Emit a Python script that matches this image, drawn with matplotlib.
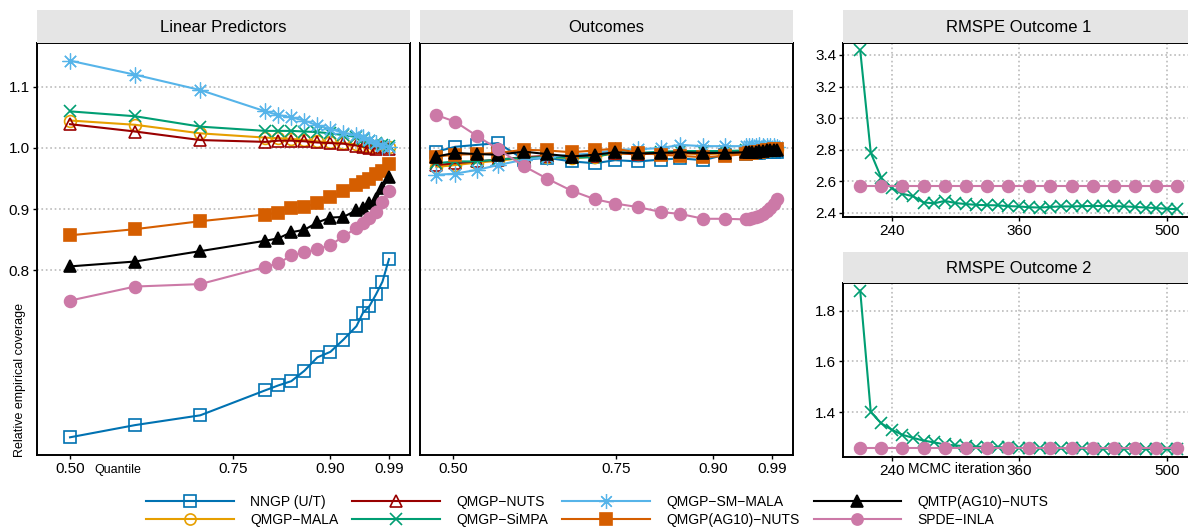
import matplotlib
matplotlib.use("Agg")
import matplotlib.pyplot as plt
from matplotlib.lines import Line2D

plt.rcParams['font.family'] = ['Liberation Sans', 'DejaVu Sans']

W, H = 1188, 527

# ---- data ----
methods = ['NNGP (U/T)', 'QMGP\u2212MALA', 'QMGP\u2212NUTS', 'QMGP\u2212SiMPA',
           'QMGP\u2212SM\u2212MALA', 'QMGP(AG10)\u2212NUTS', 'QMTP(AG10)\u2212NUTS', 'SPDE\u2212INLA']
colors = ['#0072B2', '#E69F00', '#990000', '#009E73', '#56B4E9', '#D55E00', '#000000', '#CC79A7']
markers = ['s', 'o', '^', 'x', (8, 2, 0), 's', '^', 'o']
filled = [False, False, False, True, True, True, True, True]

q_lin = [0.50, 0.60, 0.70, 0.80, 0.82, 0.84, 0.86, 0.88, 0.90, 0.92, 0.94, 0.95, 0.96, 0.97, 0.98, 0.99]
nngp_lp = [0.526, 0.546, 0.562, 0.603, 0.611, 0.618, 0.635, 0.657, 0.666, 0.686, 0.708, 0.730, 0.741, 0.760, 0.781, 0.818]
mala_lp = [1.045, 1.038, 1.024, 1.017, 1.016, 1.015, 1.013, 1.011, 1.009, 1.008, 1.006, 1.004, 1.003, 1.002, 1.002, 1.001]
nuts_lp = [1.039, 1.027, 1.013, 1.010, 1.012, 1.012, 1.011, 1.009, 1.008, 1.007, 1.004, 1.002, 1.000, 0.999, 1.001, 0.998]
simpa_lp = [1.060, 1.052, 1.035, 1.028, 1.028, 1.028, 1.027, 1.026, 1.024, 1.021, 1.018, 1.015, 1.011, 1.008, 1.005, 1.003]
smmala_lp = [1.143, 1.120, 1.095, 1.060, 1.054, 1.050, 1.045, 1.037, 1.031, 1.025, 1.021, 1.018, 1.013, 1.008, 1.004, 1.001]
ag10_lp = [0.857, 0.867, 0.880, 0.891, 0.894, 0.902, 0.903, 0.910, 0.920, 0.929, 0.940, 0.944, 0.950, 0.958, 0.963, 0.974]
qmtp_lp = [0.806, 0.814, 0.831, 0.848, 0.852, 0.862, 0.866, 0.878, 0.886, 0.887, 0.898, 0.902, 0.910, 0.916, 0.935, 0.952]
spde_lp = [0.750, 0.773, 0.777, 0.805, 0.811, 0.824, 0.829, 0.834, 0.841, 0.855, 0.869, 0.877, 0.885, 0.895, 0.912, 0.930]

q_out = [0.474, 0.503, 0.536, 0.569, 0.609, 0.644, 0.682, 0.718, 0.749, 0.785, 0.820, 0.849,
         0.885, 0.918, 0.950, 0.955, 0.960, 0.966, 0.971, 0.977, 0.982, 0.988, 0.993, 0.998]
nngp_out = [0.994, 1.002, 1.005, 1.008, 0.981, 0.984, 0.978, 0.975, 0.980, 0.978, 0.981, 0.983,
            0.980, 0.989, 0.990, 0.991, 0.991, 0.992, 0.992, 0.993, 0.993, 0.993, 0.994, 0.994]
mala_out = [0.969, 0.972, 0.976, 0.979, 0.984, 0.986, 0.983, 0.986, 0.991, 0.990, 0.991, 0.991,
            0.990, 0.991, 0.992, 0.993, 0.994, 0.994, 0.995, 0.996, 0.996, 0.997, 0.997, 0.998]
nuts_out = [0.972, 0.975, 0.978, 0.981, 0.985, 0.987, 0.985, 0.987, 0.992, 0.990, 0.991, 0.992,
            0.991, 0.992, 0.993, 0.994, 0.994, 0.995, 0.996, 0.996, 0.997, 0.997, 0.998, 0.998]
simpa_out = [0.975, 0.978, 0.978, 0.981, 0.984, 0.985, 0.984, 0.985, 0.993, 0.992, 0.994, 0.995,
             0.995, 0.995, 0.996, 0.996, 0.997, 0.997, 0.998, 0.998, 0.998, 0.999, 0.999, 0.999]
smmala_out = [0.956, 0.958, 0.964, 0.972, 0.981, 0.985, 0.989, 0.991, 0.997, 0.998, 1.000, 1.005,
              1.003, 1.003, 1.003, 1.004, 1.004, 1.004, 1.005, 1.004, 1.004, 1.004, 1.003, 1.002]
ag10_out = [0.986, 0.989, 0.990, 0.992, 0.997, 0.996, 0.993, 0.996, 0.999, 0.992, 0.989, 0.987,
            0.985, 0.987, 0.990, 0.991, 0.992, 0.993, 0.994, 0.995, 0.996, 0.997, 0.998, 0.998]
qmtp_out = [0.986, 0.992, 0.990, 0.989, 0.994, 0.990, 0.986, 0.989, 0.993, 0.991, 0.992, 0.993,
            0.992, 0.992, 0.993, 0.993, 0.994, 0.994, 0.995, 0.995, 0.996, 0.996, 0.997, 0.997]
spde_out = [1.054, 1.043, 1.020, 0.998, 0.970, 0.950, 0.930, 0.916, 0.909, 0.903, 0.895, 0.892,
            0.884, 0.884, 0.883, 0.884, 0.885, 0.887, 0.889, 0.892, 0.896, 0.901, 0.908, 0.916]

lp_series = [nngp_lp, mala_lp, nuts_lp, simpa_lp, smmala_lp, ag10_lp, qmtp_lp, spde_lp]
out_series = [nngp_out, mala_out, nuts_out, simpa_out, smmala_out, ag10_out, qmtp_out, spde_out]

iter_simpa = [210, 220, 230, 240, 250, 260, 270, 280, 290, 300, 310, 320, 330, 340, 350, 360,
              370, 380, 390, 400, 410, 420, 430, 440, 450, 460, 470, 480, 490, 500, 510]
rmspe1_simpa = [3.43, 2.78, 2.62, 2.555, 2.52, 2.505, 2.465, 2.46, 2.475, 2.462, 2.455, 2.45, 2.448,
                2.447, 2.442, 2.44, 2.435, 2.433, 2.437, 2.44, 2.44, 2.442, 2.443, 2.443, 2.442,
                2.44, 2.437, 2.433, 2.43, 2.425, 2.423]
rmspe2_simpa = [1.88, 1.40, 1.355, 1.33, 1.31, 1.298, 1.287, 1.28, 1.272, 1.268, 1.265, 1.263, 1.262,
                1.261, 1.26, 1.258, 1.258, 1.257, 1.257, 1.256, 1.256, 1.256, 1.255, 1.255, 1.255,
                1.255, 1.255, 1.254, 1.254, 1.253, 1.253]
iter_inla = [210, 230, 250, 270, 290, 310, 330, 350, 370, 390, 410, 430, 450, 470, 490, 510]
rmspe1_inla = [2.567] * 16
rmspe2_inla = [1.257] * 16

q_ticks = [0.50, 0.75, 0.90, 0.99]
q_ticklabels = ['0.50', '0.75', '0.90', '0.99']


def box(x0, y0, x1, y1):
    return [x0 / W, 1 - y1 / H, (x1 - x0) / W, (y1 - y0) / H]


def strip(rect, title):
    s = fig.add_axes(box(*rect))
    s.set_facecolor('#E5E5E5')
    for sp in s.spines.values():
        sp.set_visible(False)
    s.set_xticks([])
    s.set_yticks([])
    s.text(0.5, 0.47, title, ha='center', va='center', fontsize=12, transform=s.transAxes)


def style(ax):
    for sp in ax.spines.values():
        sp.set_linewidth(1.4)
    ax.tick_params(direction='out', length=3, width=1, labelsize=11, pad=2)


def mstyle(i, ms):
    # asterisks are drawn larger and thinner, like R's pch 8
    if i == 4:
        return dict(ms=ms * 1.35, mew=0.9)
    return dict(ms=ms, mew=1.2)


def draw(ax, x, y, i, ms=8.5, lw=1.5):
    ax.plot(x, y, color=colors[i], lw=lw, marker=markers[i],
            mfc=colors[i] if filled[i] else 'none', mec=colors[i], **mstyle(i, ms))


fig = plt.figure(figsize=(W / 100, H / 100), dpi=100)

# linear predictors and outcomes
ax1 = fig.add_axes(box(36.7, 43, 410, 455))
ax2 = fig.add_axes(box(420, 43, 792.7, 455))
for ax, xs, data in [(ax1, q_lin, lp_series), (ax2, q_out, out_series)]:
    style(ax)
    ax.set_xlim(0.4488, 1.0223)
    ax.set_ylim(0.497, 1.172)
    ax.set_yticks([0.8, 0.9, 1.0, 1.1])
    ax.yaxis.grid(True, color='#BBBBBB', linestyle=':', lw=1.2)
    ax.set_axisbelow(True)
    ax.set_xticks(q_ticks)
    ax.set_xticklabels(q_ticklabels)
    for i, ys in enumerate(data):
        draw(ax, xs, ys, i)
ax1.set_yticklabels(['0.8', '0.9', '1.0', '1.1'])
ax2.tick_params(axis='y', length=0, labelleft=False)
strip((36.7, 10, 410, 43), 'Linear Predictors')
strip((420, 10, 792.7, 43), 'Outcomes')

# RMSPE panels
ax3 = fig.add_axes(box(843.3, 43, 1195, 216.7))
ax4 = fig.add_axes(box(843.3, 283.3, 1195, 456.7))
for ax, r_s, r_i, ylim, yt in [(ax3, rmspe1_simpa, rmspe1_inla, (2.375, 3.476), [2.4, 2.6, 2.8, 3.0, 3.2, 3.4]),
                               (ax4, rmspe2_simpa, rmspe2_inla, (1.2235, 1.909), [1.4, 1.6, 1.8])]:
    style(ax)
    ax.set_xlim(194, 526.8)
    ax.set_ylim(*ylim)
    ax.set_yticks(yt)
    ax.set_yticklabels(['%.1f' % v for v in yt])
    ax.set_xticks([240, 360, 500])
    ax.grid(True, color='#BBBBBB', linestyle=':', lw=1.2)
    ax.set_axisbelow(True)
    draw(ax, iter_simpa, r_s, 3, ms=8)
    draw(ax, iter_inla, r_i, 7, ms=8.5)
strip((843.3, 10, 1195, 43), 'RMSPE Outcome 1')
strip((843.3, 251.7, 1195, 283.3), 'RMSPE Outcome 2')

fig.text(117.5 / W, 1 - 470 / H, 'Quantile', ha='center', va='center', fontsize=9)
fig.text(956 / W, 1 - 469 / H, 'MCMC iteration', ha='center', va='center', fontsize=10)
fig.text(20 / W, 1 - 457 / H, 'Relative empirical coverage', rotation=90,
         ha='center', va='bottom', fontsize=9)

handles = [Line2D([], [], color=colors[i], lw=1.5, marker=markers[i],
                  mfc=colors[i] if filled[i] else 'none', mec=colors[i], **mstyle(i, 8))
           for i in range(len(methods))]
fig.legend(handles, methods, ncol=4, loc='upper left', bbox_to_anchor=(146 / W, 1 - 495 / H),
           frameon=False, fontsize=10, handlelength=6.3, handletextpad=1.2,
           columnspacing=1.0, labelspacing=0.3, borderpad=0, borderaxespad=0)

plt.savefig('out.png', dpi=100)
